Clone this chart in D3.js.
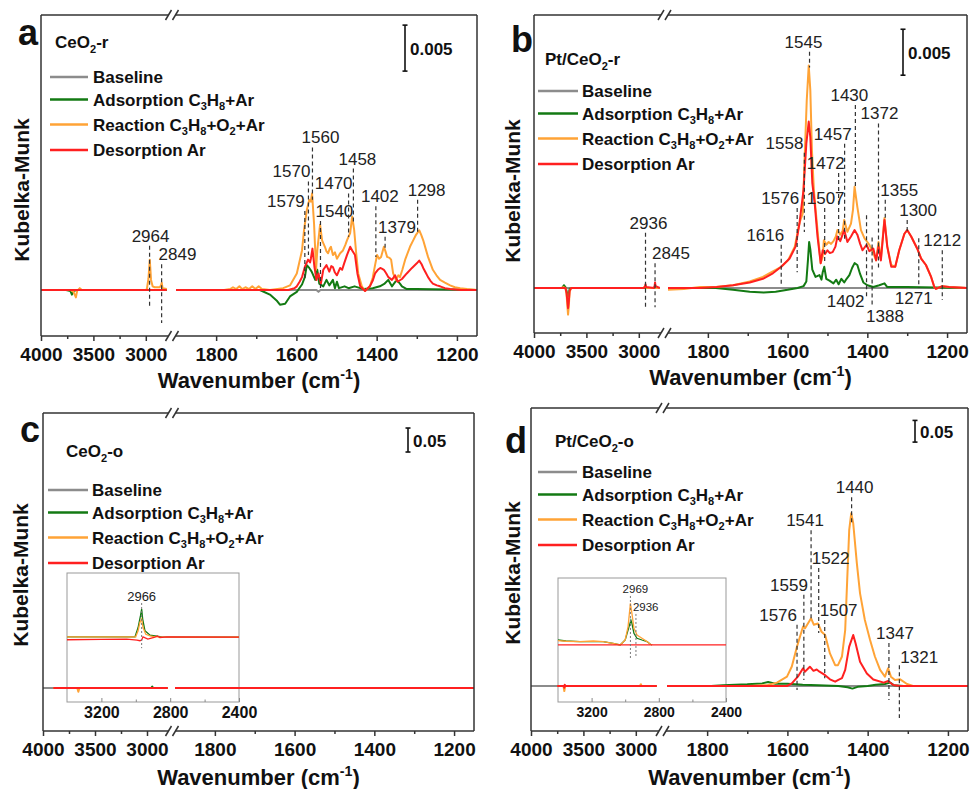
<!doctype html>
<html>
<head>
<meta charset="utf-8">
<title>In situ DRIFTS spectra</title>
<style>
  body { margin: 0; background: #fff; }
  svg { display: block; font-family: "Liberation Sans", Arial, sans-serif; }
  .frame { fill: none; stroke: #333; stroke-width: 1.5px; }
  .curve { fill: none; stroke-width: 2px; stroke-linejoin: round; }
  .inset-curve { fill: none; stroke-width: 1.3px; }
  .peak { stroke: #333; stroke-width: 1.2px; stroke-dasharray: 4,3; }
  .inset-peak { stroke: #777; stroke-width: 1px; stroke-dasharray: 2,2; }
  .axis line { stroke: #333; stroke-width: 1.5px; }
</style>
</head>
<body>
<script src="https://cdn.jsdelivr.net/npm/d3@7"></script>
<script>
// series order: Baseline, Adsorption, Reaction, Desorption
var seriesNames = ["Baseline", "Adsorption C_3H_8+Ar", "Reaction C_3H_8+O_2+Ar", "Desorption Ar"];
var colors = ["#8c8c8c", "#137a13", "#ffa336", "#ff2020"];

var leftMajor = [4000, 3500, 3000], leftMinor = [3750, 3250];
var rightMajor = [1800, 1600, 1400, 1200], rightMinor = [1700, 1500, 1300];
var insetMajor = [3200, 2800, 2400], insetMinor = [3000, 2600];

// ---- panel a : CeO2-r ----
var aBaseline = [[4000,0],[2800,0],[1900,0],[1550,0],[1545,-0.0002],[1540,0],[1150,0]];
var aAdsorption = [[4000,0],[3760,0],[3720,-0.0001],[3705,-0.0005],[3690,-0.0001],[3660,0],[2800,0],
  [1900,0],[1720,0],[1691,0],[1666,-0.0005],[1648,-0.0012],[1641,-0.0016],[1628,-0.0015],[1616,-0.0007],
  [1599,-0.0002],[1591,0.0003],[1586,0.0006],[1579,0.0014],[1574,0.0027],[1568,0.0024],[1562,0.0020],
  [1553,0.0011],[1548,0.0022],[1543,0.0007],[1533,0.0004],[1525,0.0011],[1518,0.0005],[1509,0.0011],
  [1504,0.0002],[1499,0.0009],[1494,0.0002],[1480,0.0004],[1470,0.0002],[1455,0.0004],[1433,0.0001],
  [1410,0.0002],[1392,0.0004],[1380,0.0007],[1371,0.0011],[1362,0.0004],[1350,0.0011],[1342,0.0007],
  [1337,0.0004],[1325,0.0001],[1300,0.0001],[1150,0]];
var aReaction = [[4000,0],[3720,0],[3690,-0.0002],[3667,-0.0008],[3655,-0.0001],[3630,0.0002],[3610,0],
  [3000,0],[2990,0.0001],[2975,0.0012],[2962,0.0033],[2950,0.0011],[2935,0.0004],[2915,0.0003],[2867,0.0003],
  [2855,0.0005],[2848,0.0008],[2840,0.0002],[2800,0.0001],
  [1900,0],[1780,0],[1765,0.0001],[1758,0.0003],[1750,0.0001],[1742,0.0004],[1735,0.0001],[1727,0.0003],
  [1718,0.0001],[1710,0.0004],[1702,0.0001],[1694,0.0004],[1686,0.0001],[1666,0],[1633,0.0002],[1616,0.0005],
  [1599,0.0018],[1586,0.0043],[1581,0.0065],[1574,0.0087],[1568,0.0098],[1564,0.0096],[1561,0.0105],
  [1556,0.0072],[1551,0.0022],[1548,0.0043],[1541,0.0071],[1536,0.0054],[1529,0.0047],[1525,0.0042],
  [1521,0.0040],[1517,0.0045],[1514,0.0047],[1509,0.0038],[1504,0.0041],[1499,0.0034],[1495,0.0037],
  [1491,0.0040],[1484,0.0043],[1478,0.0049],[1474,0.0054],[1466,0.0062],[1461,0.0080],[1456,0.0065],
  [1451,0.0040],[1446,0.0018],[1437,0.0004],[1429,-0.0001],[1417,0.0004],[1410,0.0013],[1404,0.0027],
  [1399,0.0038],[1394,0.0034],[1389,0.0036],[1382,0.0047],[1378,0.0042],[1374,0.0036],[1368,0.0035],
  [1364,0.0033],[1359,0.0018],[1352,0.0011],[1346,0.0016],[1342,0.0014],[1336,0.0022],[1329,0.0033],
  [1317,0.0047],[1309,0.0054],[1302,0.0060],[1294,0.0065],[1289,0.0060],[1284,0.0054],[1278,0.0045],
  [1272,0.0036],[1266,0.0029],[1260,0.0022],[1251,0.0016],[1242,0.0011],[1230,0.0008],[1217,0.0005],
  [1205,0.0003],[1192,0.0002],[1175,0.0001],[1150,0]];
var aDesorption = [[4000,0],[2800,0],
  [1900,0],[1620,0],[1605,0.0002],[1599,0.0004],[1592,0.0009],[1586,0.0014],[1579,0.0025],[1571,0.0033],
  [1566,0.0030],[1564,0.0034],[1560,0.0045],[1555,0.0025],[1550,0.0011],[1545,0.0018],[1539,0.0007],
  [1533,0.0022],[1525,0.0027],[1518,0.0020],[1513,0.0026],[1509,0.0025],[1504,0.0019],[1499,0.0016],
  [1491,0.0024],[1486,0.0022],[1481,0.0029],[1474,0.0038],[1466,0.0047],[1461,0.0043],[1454,0.0038],
  [1448,0.0018],[1441,0.0004],[1429,-0.0001],[1417,0.0004],[1410,0.0010],[1404,0.0018],[1397,0.0022],
  [1391,0.0024],[1386,0.0023],[1382,0.0022],[1376,0.0018],[1371,0.0014],[1362,0.0011],[1354,0.0016],
  [1348,0.0009],[1337,0.0012],[1325,0.0018],[1312,0.0024],[1300,0.0029],[1294,0.0032],[1288,0.0028],
  [1284,0.0024],[1278,0.0019],[1272,0.0014],[1266,0.0010],[1260,0.0007],[1250,0.0005],[1242,0.0004],
  [1230,0.0002],[1217,0.0001],[1190,0],[1150,0]];
var aPeaks = [
  {wn:2964, top:0.0048, bottom:-0.0018, anchor:"middle", dx:1},
  {wn:2849, top:0.0028, bottom:-0.0036, anchor:"start", dx:-3},
  {wn:1579, top:0.0086, bottom:0.0011, anchor:"end", dx:0},
  {wn:1570, top:0.0118, bottom:0.0038, anchor:"end", dx:2},
  {wn:1560, top:0.0155, bottom:0.0098, anchor:"middle", dx:8},
  {wn:1540, top:0.0075, bottom:0.0000, anchor:"start", dx:-5},
  {wn:1470, top:0.0105, bottom:0.0058, anchor:"end", dx:4},
  {wn:1458, top:0.0132, bottom:0.0074, anchor:"middle", dx:4},
  {wn:1402, top:0.0091, bottom:0.0036, anchor:"middle", dx:4},
  {wn:1379, top:0.0058, bottom:0.0046, anchor:"start", dx:-7},
  {wn:1298, top:0.0098, bottom:0.0063, anchor:"middle", dx:9}
];

// ---- panel b : Pt/CeO2-r ----
var bBaseline = [[4000,0],[2800,0],[1900,0],[1150,0]];
var bAdsorption = [[4000,0],[3730,0],[3715,0.0003],[3700,0.0001],[3690,-0.0003],[3680,-0.0008],[3675,-0.0009],
  [3668,-0.0006],[3660,-0.0001],[3645,0],[2800,0],
  [1900,0],[1780,0],[1737,-0.0002],[1695,-0.0004],[1660,-0.0005],[1630,-0.0004],[1600,-0.0002],[1575,0],
  [1560,0.0002],[1553,0.0007],[1549,0.0030],[1546,0.0050],[1543,0.0042],[1538,0.0020],[1530,0.0012],
  [1520,0.0014],[1515,0.0009],[1512,0.0017],[1508,0.0023],[1503,0.0010],[1495,0.0008],[1485,0.0005],
  [1478,0.0009],[1472,0.0004],[1465,0.0010],[1458,0.0006],[1452,0.0010],[1445,0.0014],[1438,0.0022],
  [1432,0.0027],[1425,0.0025],[1418,0.0015],[1410,0.0006],[1400,0.0003],[1385,0.0001],[1370,0.0003],
  [1357,0.0005],[1350,0.0001],[1300,0.0001],[1150,0]];
var bReaction = [[4000,0],[3740,0],[3720,0.0001],[3700,0],[3690,-0.0006],[3680,-0.0022],[3675,-0.0029],
  [3668,-0.0020],[3660,-0.0004],[3645,0],[2960,0],[2936,0.0002],[2925,0],[2850,0],[2845,0.0003],[2838,0],[2800,0],
  [1900,-0.0002],[1860,-0.0001],[1820,0.0001],[1780,0.0001],[1737,0.0003],[1695,0.0007],[1662,0.0012],
  [1637,0.0018],[1616,0.0023],[1599,0.0030],[1582,0.0045],[1570,0.0071],[1562,0.0081],[1558,0.0132],
  [1552,0.0204],[1547,0.0242],[1543,0.0215],[1539,0.0150],[1534,0.0106],[1528,0.0077],[1522,0.0049],
  [1517,0.0027],[1512,0.0034],[1509,0.0052],[1503,0.0047],[1497,0.0050],[1491,0.0048],[1485,0.0051],
  [1479,0.0056],[1475,0.0063],[1468,0.0058],[1462,0.0062],[1458,0.0074],[1450,0.0061],[1441,0.0070],
  [1436,0.0085],[1432,0.0110],[1425,0.0088],[1416,0.0063],[1407,0.0054],[1400,0.0050],[1395,0.0047],
  [1388,0.0041],[1378,0.0030],[1372,0.0050],[1366,0.0032],[1357,0.0076],[1350,0.0045],[1340,0.0025],
  [1330,0.0023],[1320,0.0041],[1307,0.0059],[1300,0.0063],[1290,0.0056],[1275,0.0043],[1265,0.0032],
  [1253,0.0025],[1240,0.0012],[1232,0.0001],[1228,-0.0001],[1212,0.0002],[1195,0.0001],[1150,0]];
var bDesorption = [[4000,0],[3700,0],[3690,-0.0005],[3680,-0.0016],[3675,-0.0022],[3668,-0.0015],[3660,-0.0003],
  [3645,0],[2950,0],[2940,0.0002],[2936,0.0004],[2930,0.0001],[2855,0],[2848,0.0003],[2845,0.0006],[2840,0.0002],[2800,0],
  [1900,0],[1820,0],[1778,0.0001],[1737,0.0003],[1695,0.0006],[1662,0.0010],[1637,0.0016],[1616,0.0023],
  [1595,0.0032],[1580,0.0045],[1570,0.0071],[1560,0.0107],[1553,0.0157],[1547,0.0181],[1543,0.0164],
  [1538,0.0114],[1532,0.0092],[1525,0.0056],[1517,0.0027],[1512,0.0041],[1506,0.0037],[1500,0.0041],
  [1494,0.0038],[1487,0.0039],[1480,0.0045],[1475,0.0056],[1468,0.0051],[1458,0.0063],[1450,0.0050],
  [1441,0.0056],[1432,0.0063],[1425,0.0058],[1418,0.0048],[1412,0.0041],[1402,0.0047],[1395,0.0040],
  [1385,0.0043],[1378,0.0030],[1372,0.0045],[1366,0.0030],[1357,0.0074],[1350,0.0045],[1340,0.0023],
  [1330,0.0023],[1320,0.0041],[1307,0.0059],[1300,0.0063],[1290,0.0056],[1275,0.0043],[1265,0.0032],
  [1253,0.0025],[1240,0.0012],[1232,0.0001],[1228,-0.0001],[1212,0.0002],[1195,0.0001],[1150,0]];
var bPeaks = [
  {wn:2936, top:0.0060, bottom:-0.0021, anchor:"middle", dx:3},
  {wn:2845, top:0.0027, bottom:-0.0021, anchor:"start", dx:-3},
  {wn:1616, top:0.0047, bottom:0.0003, anchor:"end", dx:3},
  {wn:1576, top:0.0087, bottom:0.0017, anchor:"end", dx:2},
  {wn:1558, top:0.0147, bottom:0.0061, anchor:"end", dx:-1},
  {wn:1545, top:0.0257, bottom:0.0240, anchor:"middle", dx:-6},
  {wn:1507, top:0.0087, bottom:0.0028, anchor:"middle", dx:1},
  {wn:1472, top:0.0125, bottom:0.0052, anchor:"end", dx:6},
  {wn:1457, top:0.0157, bottom:0.0052, anchor:"end", dx:7},
  {wn:1430, top:0.0199, bottom:0.0110, anchor:"middle", dx:-6},
  {wn:1372, top:0.0179, bottom:0.0022, anchor:"middle", dx:1},
  {wn:1355, top:0.0096, bottom:0.0074, anchor:"start", dx:-5},
  {wn:1300, top:0.0074, bottom:0.0061, anchor:"start", dx:-8},
  {wn:1212, top:0.0041, bottom:-0.0013, anchor:"middle", dx:0},
  {wn:1402, top:0.0079, bottom:-0.0010, anchor:"end", dx:-2, below:10},
  {wn:1388, top:0.0055, bottom:-0.0021, anchor:"start", dx:-6, below:15},
  {wn:1271, top:0.0054, bottom:0.0000, anchor:"middle", dx:-5, below:16}
];

// ---- panel c : CeO2-o ----
var cBaseline = [[4000,0],[2800,0],[1900,0],[1150,0]];
var cAdsorption = [[3900,0],[2960,0],[2950,0.003],[2940,0],[2800,0],[1900,0],[1150,0]];
var cReaction = [[3900,0],[3670,0],[3660,-0.008],[3650,0],[2800,0],[1900,0],[1150,0]];
var cDesorption = [[3900,0],[2800,0],[1900,0],[1150,0]];
var cInsetAdsorption = [[3400,0.0002],[3005,0.0002],[2987,0.003],[2973,0.0067],[2966,0.0088],[2960,0.0057],
  [2947,0.0021],[2917,0.0007],[2888,0.0005],[2850,0.0002],[2400,0.0001]];
var cInsetReaction = [[3400,0.0002],[3000,0.0002],[2999,0.0005],[2987,0.002],[2976,0.0047],[2966,0.0057],
  [2958,0.0031],[2942,0.001],[2917,0.0005],[2888,0.0002],[2400,0.0001]];
var cInsetDesorption = [[3400,-0.0007],[3200,-0.0006],[3053,-0.0005],[2993,-0.0008],[2976,-0.001],[2966,-0.0008],
  [2958,0.0002],[2930,-0.0005],[2894,0],[2875,0.0005],[2860,0],[2818,0.0002],[2400,0.0001]];
var cInsetPeaks = [{wn:2966, top:0.0107, bottom:-0.0033, anchor:"middle", dx:0, dy:-2}];

// ---- panel d : Pt/CeO2-o ----
var dBaseline = [[4000,0],[2800,0],[1900,0],[1150,0]];
var dAdsorption = [[3750,0],[2800,0],
  [1900,0],[1790,0],[1760,0.002],[1700,0.004],[1663,0.006],[1648,0.009],[1630,0.005],[1600,0.005],[1562,0.003],
  [1523,0.002],[1473,0],[1450,-0.003],[1438,-0.006],[1425,-0.002],[1400,0],[1380,0.003],[1357,0.0046],
  [1344,0.0077],[1335,0.002],[1310,0],[1150,0]];
var dReaction = [[3750,0],[3690,0],[3682,-0.0115],[3675,0],[2960,0],[2952,0.004],[2944,0],[2800,0],
  [1900,0],[1700,0],[1650,0.002],[1626,0.0077],[1601,0.0215],[1589,0.045],[1576,0.091],[1561,0.137],
  [1556,0.133],[1541,0.156],[1534,0.141],[1524,0.144],[1515,0.125],[1506,0.1175],[1494,0.075],[1481,0.048],
  [1474,0.048],[1464,0.068],[1456,0.129],[1451,0.244],[1446,0.359],[1441,0.398],[1436,0.375],[1427,0.283],
  [1419,0.2135],[1407,0.152],[1394,0.106],[1382,0.068],[1369,0.037],[1357,0.0215],[1349,0.041],[1342,0.0215],
  [1332,0.0138],[1319,0.0154],[1302,0.0046],[1287,0],[1150,0]];
var dDesorption = [[3750,0],[3686,0],[3682,-0.004],[3678,0.003],[3672,0],[2800,0],
  [1900,0],[1601,0],[1589,0.006],[1574,0.0215],[1561,0.041],[1556,0.033],[1544,0.0445],[1535,0.035],
  [1527,0.038],[1520,0.033],[1506,0.025],[1494,0.0154],[1481,0.010],[1473,0.014],[1464,0.018],[1456,0.037],
  [1446,0.0906],[1436,0.1175],[1430,0.098],[1419,0.056],[1402,0.029],[1386,0.015],[1360,0.0077],[1349,0.0115],
  [1336,0.0023],[1320,0],[1150,0]];
var dInsetAdsorption = [[3400,0.004],[3353,0.0032],[3269,0.0027],[3190,0.0027],[3131,0.0027],[3073,0.0013],
  [3030,0],[3000,0.004],[2983,0.012],[2966,0.020],[2960,0.0175],[2948,0.0094],[2930,0.0054],[2900,0.004],
  [2870,0.0027],[2852,0.0008],[2840,0]];
var dInsetReaction = [[3400,0.0035],[3353,0.003],[3269,0.0027],[3190,0.0032],[3131,0.0027],[3073,0.0013],
  [3030,0],[3000,0.004],[2983,0.0148],[2969,0.0336],[2960,0.0255],[2948,0.0134],[2936,0.010],[2930,0.008],
  [2900,0.0054],[2870,0.0027],[2852,0.0008],[2840,0]];
var dInsetDesorption = [[3400,0],[2400,0]];
var dPeaks = [
  {wn:1440, top:0.435, bottom:0.371, anchor:"middle", dx:3},
  {wn:1541, top:0.359, bottom:0.152, anchor:"middle", dx:-6},
  {wn:1522, top:0.272, bottom:0.122, anchor:"start", dx:-7},
  {wn:1559, top:0.210, bottom:0.014, anchor:"end", dx:4},
  {wn:1576, top:0.141, bottom:-0.009, anchor:"end", dx:0},
  {wn:1507, top:0.152, bottom:0.018, anchor:"start", dx:-5},
  {wn:1347, top:0.099, bottom:-0.032, anchor:"middle", dx:6},
  {wn:1321, top:0.048, bottom:-0.074, anchor:"start", dx:1, dy:-2}
];
var dInsetPeaks = [
  {wn:2969, top:0.0395, bottom:-0.0105, anchor:"middle", dx:5, dy:-3},
  {wn:2936, top:0.025, bottom:-0.0105, anchor:"start", dx:-3, dy:-3}
];

var panels = [
  {letter:"a", sample:"CeO_2-r", series:[aBaseline,aAdsorption,aReaction,aDesorption], peaks:aPeaks,
   left:41, right:477, top:15, bottom:336, segL:[41,172], segR:[176,477], yDomain:[-0.005,0.0299],
   letterPos:[18,45], samplePos:[55,48], ylab:[29,190], xlabY:388,
   bar:{x:405, v0:0.0238, dv:0.005, text:"0.005"}, legend:{x0:50, x1:88, tx:93, y0:77}},
  {letter:"b", sample:"Pt/CeO_2-r", series:[bBaseline,bAdsorption,bReaction,bDesorption], peaks:bPeaks,
   left:534, right:967, top:15, bottom:333, segL:[534,665], segR:[668,967], yDomain:[-0.0049,0.0297],
   letterPos:[511,52], samplePos:[545,65], ylab:[520,191], xlabY:385,
   bar:{x:903, v0:0.02315, dv:0.005, text:"0.005"}, legend:{x0:538, x1:578, tx:582, y0:91}},
  {letter:"c", sample:"CeO_2-o", series:[cBaseline,cAdsorption,cReaction,cDesorption], peaks:[],
   left:43, right:474, top:413, bottom:731, segL:[43,173], segR:[175,474], yDomain:[-0.0896,0.573],
   letterPos:[20,442], samplePos:[66,457], ylab:[28,575], xlabY:785,
   bar:{x:408, v0:0.4917, dv:0.05, text:"0.05"}, legend:{x0:48, x1:88, tx:92, y0:490},
   inset:{x:[67,239], y:[702,573], yDomain:[-0.02,0.02], fontSize:16, peakFont:13,
          series:[cInsetAdsorption,cInsetReaction,cInsetDesorption], peaks:cInsetPeaks}},
  {letter:"d", sample:"Pt/CeO_2-o", series:[dBaseline,dAdsorption,dReaction,dDesorption], peaks:dPeaks,
   left:531, right:968, top:408, bottom:731, segL:[531,662], segR:[667,968], yDomain:[-0.1037,0.6406],
   letterPos:[505,453], samplePos:[555,447], ylab:[520,573], xlabY:785,
   bar:{x:915, v0:0.562, dv:0.05, text:"0.05"}, legend:{x0:538, x1:577, tx:582, y0:472},
   inset:{x:[558,726], y:[702,578], yDomain:[-0.046,0.054], fontSize:14, peakFont:11.5,
          series:[dInsetAdsorption,dInsetReaction,dInsetDesorption], peaks:dInsetPeaks}}
];

var svg = d3.select("body").append("svg").attr("width", 971).attr("height", 789);
var fmt = d3.format("d");

// text with _sub and ^sup pieces
function rich(sel, str, size) {
  var parts = str.split(/(_[0-9]+|\^[-0-9]+)/).filter(function(s) { return s.length; });
  var shift = 0;
  parts.forEach(function(p) {
    var t = sel.append("tspan");
    if (p[0] === "_") {
      t.text(p.slice(1)).attr("font-size", size * 0.65).attr("dy", size * 0.28 - shift);
      shift = size * 0.28;
    } else if (p[0] === "^") {
      t.text(p.slice(1)).attr("font-size", size * 0.65).attr("dy", -size * 0.4 - shift);
      shift = -size * 0.4;
    } else {
      t.text(p).attr("dy", -shift);
      shift = 0;
    }
  });
}

function drawPeaks(g, peaks, xOf, y, cls, fontSize) {
  peaks.forEach(function(pk) {
    var x = xOf(pk.wn);
    g.append("line").attr("class", cls)
      .attr("x1", x).attr("x2", x).attr("y1", y(pk.top)).attr("y2", y(pk.bottom));
    var ty = pk.below ? y(pk.bottom) + pk.below : y(pk.top) + (pk.dy || -4);
    g.append("text").attr("x", x + pk.dx).attr("y", ty)
      .attr("text-anchor", pk.anchor).attr("font-size", fontSize).attr("fill", "#222")
      .text(pk.wn);
  });
}

function styleAxis(ax, size) {
  ax.attr("font-family", null).attr("font-size", size).attr("font-weight", "bold");
  ax.select(".domain").remove();
  ax.selectAll("text").attr("fill", "#111");
}

panels.forEach(function(p) {
  var g = svg.append("g");
  var xL = d3.scaleLinear().domain([4000, 2750]).range(p.segL);
  var xR = d3.scaleLinear().domain([1900, 1150]).range(p.segR);
  var y = d3.scaleLinear().domain(p.yDomain).range([p.bottom, p.top]);
  var xOf = function(wn) { return wn > 2000 ? xL(wn) : xR(wn); };

  // inset first so main curves sit over it
  if (p.inset) {
    var ins = p.inset;
    var xi = d3.scaleLinear().domain([3400, 2400]).range(ins.x);
    var yi = d3.scaleLinear().domain(ins.yDomain).range(ins.y);
    g.append("rect").attr("x", ins.x[0]).attr("y", ins.y[1])
      .attr("width", ins.x[1] - ins.x[0]).attr("height", ins.y[0] - ins.y[1])
      .attr("fill", "none").attr("stroke", "#999").attr("stroke-width", 1);
    ins.series.forEach(function(s, i) {
      g.append("path").datum(s).attr("class", "inset-curve").attr("stroke", colors[i + 1])
        .attr("d", d3.line().x(function(d) { return xi(d[0]); }).y(function(d) { return yi(d[1]); }));
    });
    drawPeaks(g, ins.peaks, xi, yi, "inset-peak", ins.peakFont);
    var iax = g.append("g").attr("class", "axis").attr("transform", "translate(0," + ins.y[0] + ")")
      .call(d3.axisBottom(xi).tickValues(insetMajor).tickFormat(fmt).tickSize(-4).tickPadding(5).tickSizeOuter(0));
    styleAxis(iax, ins.fontSize);
    iax.selectAll("line").style("stroke", "#888").style("stroke-width", "1px");
    var iam = g.append("g").attr("class", "axis").attr("transform", "translate(0," + ins.y[0] + ")")
      .call(d3.axisBottom(xi).tickValues(insetMinor).tickSize(-2.5).tickFormat(""));
    iam.select(".domain").remove();
    iam.selectAll("line").style("stroke", "#888").style("stroke-width", "1px");
  }

  // spectra, split over the broken axis
  p.series.forEach(function(s, i) {
    var parts = [[s.filter(function(d) { return d[0] >= 2750; }), xL],
                 [s.filter(function(d) { return d[0] <= 1900; }), xR]];
    parts.forEach(function(pp) {
      if (pp[0].length < 2) return;
      var xs = pp[1];
      g.append("path").datum(pp[0]).attr("class", "curve").attr("stroke", colors[i])
        .attr("d", d3.line().x(function(d) { return xs(d[0]); }).y(function(d) { return y(d[1]); }));
    });
  });

  drawPeaks(g, p.peaks, xOf, y, "peak", 17);

  // frame with axis break
  var mid = (p.segL[1] + p.segR[0]) / 2 - 2;
  g.append("line").attr("class", "frame").attr("x1", p.left).attr("x2", p.left).attr("y1", p.top).attr("y2", p.bottom);
  g.append("line").attr("class", "frame").attr("x1", p.right).attr("x2", p.right).attr("y1", p.top).attr("y2", p.bottom);
  [p.top, p.bottom].forEach(function(yy) {
    g.append("line").attr("class", "frame").attr("x1", p.left).attr("x2", mid - 3.5).attr("y1", yy).attr("y2", yy);
    g.append("line").attr("class", "frame").attr("x1", mid + 3.5).attr("x2", p.right).attr("y1", yy).attr("y2", yy);
    [mid - 3.5, mid + 3.5].forEach(function(bx) {
      g.append("line").attr("class", "frame").attr("x1", bx - 3).attr("x2", bx + 3).attr("y1", yy + 5).attr("y2", yy - 5);
    });
  });

  // bottom axis ticks
  [[xL, leftMajor, leftMinor], [xR, rightMajor, rightMinor]].forEach(function(a) {
    var ax = g.append("g").attr("class", "axis").attr("transform", "translate(0," + p.bottom + ")")
      .call(d3.axisBottom(a[0]).tickValues(a[1]).tickFormat(fmt).tickSize(5).tickPadding(7).tickSizeOuter(0));
    styleAxis(ax, 19);
    var am = g.append("g").attr("class", "axis").attr("transform", "translate(0," + p.bottom + ")")
      .call(d3.axisBottom(a[0]).tickValues(a[2]).tickSize(3).tickFormat(""));
    am.select(".domain").remove();
  });

  // axis titles
  var xt = g.append("text").attr("x", (p.left + p.right) / 2).attr("y", p.xlabY)
    .attr("text-anchor", "middle").attr("font-size", 22).attr("font-weight", "bold").attr("fill", "#111");
  rich(xt, "Wavenumber (cm^-1)", 22);
  g.append("text").attr("transform", "translate(" + p.ylab[0] + "," + p.ylab[1] + ") rotate(-90)")
    .attr("text-anchor", "middle").attr("font-size", 21).attr("font-weight", "bold").attr("fill", "#111")
    .text("Kubelka-Munk");

  // panel letter and sample name
  g.append("text").attr("x", p.letterPos[0]).attr("y", p.letterPos[1])
    .attr("font-size", 36).attr("font-weight", "bold").attr("fill", "#111").text(p.letter);
  var st = g.append("text").attr("x", p.samplePos[0]).attr("y", p.samplePos[1])
    .attr("font-size", 17).attr("font-weight", "bold").attr("fill", "#111");
  rich(st, p.sample, 17);

  // scale bar
  var b = p.bar, yb0 = y(b.v0), yb1 = y(b.v0 + b.dv);
  g.append("line").attr("x1", b.x).attr("x2", b.x).attr("y1", yb0).attr("y2", yb1).attr("stroke", "#111").attr("stroke-width", 1.6);
  [yb0, yb1].forEach(function(yy) {
    g.append("line").attr("x1", b.x - 2.5).attr("x2", b.x + 2.5).attr("y1", yy).attr("y2", yy).attr("stroke", "#111").attr("stroke-width", 1.6);
  });
  g.append("text").attr("x", b.x + 5).attr("y", (yb0 + yb1) / 2 + 1).attr("dominant-baseline", "central")
    .attr("font-size", 17).attr("font-weight", "bold").attr("fill", "#111").text(b.text);

  // legend
  var rowOff = [0, 22.5, 47.5, 73];
  seriesNames.forEach(function(name, i) {
    var ry = p.legend.y0 + rowOff[i];
    g.append("line").attr("x1", p.legend.x0).attr("x2", p.legend.x1).attr("y1", ry).attr("y2", ry)
      .attr("stroke", colors[i]).attr("stroke-width", 2.5);
    var lt = g.append("text").attr("x", p.legend.tx).attr("y", ry + 6)
      .attr("font-size", 17).attr("font-weight", "bold").attr("fill", "#111");
    rich(lt, name, 17);
  });
});
</script>
</body>
</html>
